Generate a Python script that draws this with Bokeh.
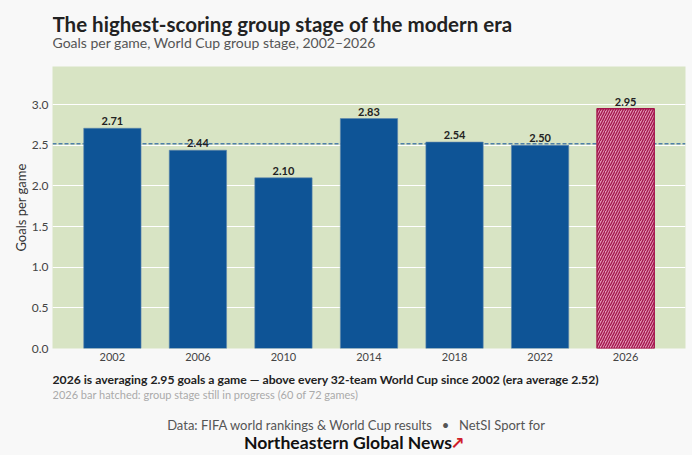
from bokeh.plotting import figure
from bokeh.layouts import column
from bokeh.models import ColumnDataSource, Range1d, FixedTicker, Span, NumeralTickFormatter
from bokeh.core.properties import value
from bokeh.embed import file_html
from bokeh.resources import INLINE

years = ["2002", "2006", "2010", "2014", "2018", "2022", "2026"]
goals = [2.71, 2.44, 2.10, 2.83, 2.54, 2.50, 2.95]
labels = ["2.71", "2.44", "2.10", "2.83", "2.54", "2.50", "2.95"]
era_average = 2.52
y_ticks = [0.0, 0.5, 1.0, 1.5, 2.0, 2.5, 3.0]

title = "The highest-scoring group stage of the modern era"
subtitle = "Goals per game, World Cup group stage, 2002\u20132026"
caption1 = "2026 is averaging 2.95 goals a game \u2014 above every 32-team World Cup since 2002 (era average 2.52)"
caption2 = "2026 bar hatched: group stage still in progress (60 of 72 games)"
source_note = "Data: FIFA world rankings & World Cup results \u2002\u2022\u2002 NetSI Sport for"
brand = "Northeastern Global News"

FONT = "Lato"
BG = "#f8f8f8"
BLUE = "#0e5496"
PINK = "#e195b3"
CRIMSON = "#a3134b"
W = 692
FRAME_L = 52
FRAME_R = 685


def blank(h):
    f = figure(width=W, height=h, output_backend="svg", toolbar_location=None,
               title=None, x_range=Range1d(FRAME_L, FRAME_R), y_range=Range1d(0, h),
               x_axis_location=None, y_axis_location=None,
               min_border=0, min_border_left=FRAME_L, min_border_right=W - FRAME_R,
               min_border_top=0, min_border_bottom=0)
    f.grid.visible = False
    f.outline_line_color = None
    f.background_fill_color = BG
    f.border_fill_color = BG
    return f


def txt(f, x, y, s, size, color, style="normal", align="left", font=FONT):
    f.text(x=[x], y=[y], text=[s], text_font=value(font), text_font_size=size,
           text_color=color, text_font_style=style, text_align=align,
           text_baseline="alphabetic")


# header (66 px tall)
head = blank(66)
txt(head, 52, 43, title, "20.5px", "#222222", "bold")
txt(head, 52, 24, subtitle, "14px", "#555555")

# chart
idx = list(range(len(years)))
src_done = ColumnDataSource(dict(x=idx[:-1], top=goals[:-1]))
src_live = ColumnDataSource(dict(x=idx[-1:], top=goals[-1:]))
src_all = ColumnDataSource(dict(x=idx, top=goals, lab=labels))

p = figure(width=W, height=302, output_backend="svg", toolbar_location=None, title=None,
           x_range=Range1d(-0.7, len(years) - 0.3), y_range=Range1d(0, 3.47),
           min_border_left=FRAME_L, min_border_right=W - FRAME_R,
           min_border_top=0, min_border_bottom=20)
p.background_fill_color = "#d8e4c4"
p.border_fill_color = BG
p.outline_line_color = None

p.xgrid.grid_line_color = None
p.ygrid.grid_line_color = "white"
p.ygrid.grid_line_width = 1.2
p.ygrid.ticker = FixedTicker(ticks=y_ticks)

span = Span(location=era_average, dimension="width", line_color="#4f7fa8",
            line_dash="4 2", line_width=1.4, level="underlay")
p.add_layout(span)

p.vbar(x="x", top="top", width=0.67, source=src_done, fill_color=BLUE,
       line_color="#5f86ad", line_width=0.6)
p.vbar(x="x", top="top", width=0.67, source=src_live, fill_color=PINK,
       line_color=CRIMSON, line_width=1.3, hatch_pattern="/", hatch_color=CRIMSON,
       hatch_scale=5, hatch_weight=1.3)

p.text(x="x", y="top", text="lab", source=src_all, text_align="center",
       text_baseline="bottom", y_offset=-3, text_font_size="11px",
       text_font_style="bold", text_color="#222222", text_font=value(FONT))

p.xaxis.ticker = FixedTicker(ticks=idx)
p.xaxis.major_label_overrides = {i: y for i, y in zip(idx, years)}
p.yaxis.ticker = FixedTicker(ticks=y_ticks)
p.yaxis.formatter = NumeralTickFormatter(format="0.0")
for ax in (p.xaxis[0], p.yaxis[0]):
    ax.axis_line_color = None
    ax.major_tick_line_color = None
    ax.minor_tick_line_color = None
    ax.major_tick_out = 0
    ax.major_tick_in = 0
    ax.major_label_text_font = FONT
    ax.major_label_text_color = "#444444"
p.xaxis.major_label_text_font_size = "11px"
p.xaxis.major_label_standoff = 4
p.yaxis.major_label_text_font_size = "12px"
p.yaxis.major_label_standoff = 4
p.yaxis.axis_label = "Goals per game"
p.yaxis.axis_label_text_font = FONT
p.yaxis.axis_label_text_font_style = "normal"
p.yaxis.axis_label_text_font_size = "13px"
p.yaxis.axis_label_text_color = "#333333"
p.yaxis.axis_label_standoff = 0

# footer (87 px tall)
foot = blank(87)
txt(foot, 52, 76, caption1, "12.2px", "#222222", "bold")
txt(foot, 52, 61.5, caption2, "11px", "#aaaaaa")
txt(foot, 356, 31, source_note, "13px", "#555555", align="center")
txt(foot, 347.5, 13, brand, "17.6px", "#111111", "bold", align="center")
txt(foot, 450, 13, "\u2197", "17px", "#d0202a", "bold", font="DejaVu Sans")

layout = column(head, p, foot, spacing=0, styles={"background-color": BG})
open("out.html", "w").write(file_html(layout, INLINE))
